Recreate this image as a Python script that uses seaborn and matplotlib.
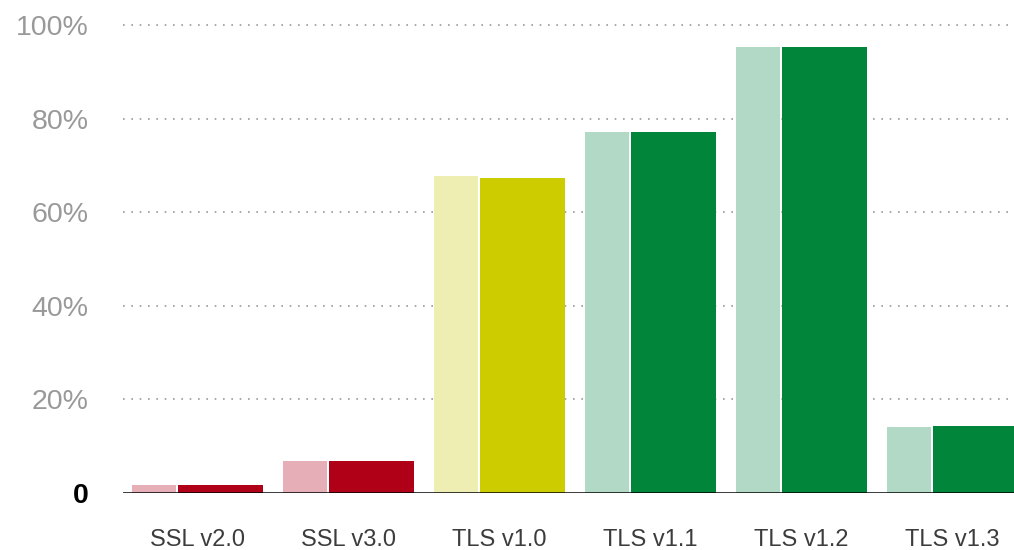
import matplotlib
matplotlib.use("Agg")
import matplotlib.pyplot as plt
import pandas as pd
import seaborn as sns

categories = ["SSL v2.0", "SSL v3.0", "TLS v1.0", "TLS v1.1", "TLS v1.2", "TLS v1.3"]
previous = [1.8, 6.9, 67.7, 77.1, 95.2, 14.0]
current = [1.8, 6.9, 67.2, 77.1, 95.2, 14.4]
light_colors = ["#E6AEB6", "#E6AEB6", "#EEEEB2", "#B1D9C5", "#B1D9C5", "#B1D9C5"]
dark_colors = ["#B00018", "#B00018", "#CCCC00", "#00853A", "#00853A", "#00853A"]
y_ticks = [0, 20, 40, 60, 80, 100]
y_labels = ["0", "20%", "40%", "60%", "80%", "100%"]

df = pd.DataFrame({"protocol": categories, "previous": previous, "current": current})

sns.set_style("white")
plt.rcParams["font.family"] = ["Liberation Sans", "DejaVu Sans"]

fig = plt.figure(figsize=(10.14, 5.5), dpi=100)
ax = fig.add_axes([123 / 1014, 57 / 550, 1 - 123 / 1014, 477.4 / 550])

# narrow light bar on the left, wide dark bar on the right of each group
light_w, dark_w, gap = 0.29, 0.563, 0.013
start = -0.434
sns.barplot(data=df, x="protocol", y="previous", hue="protocol", palette=light_colors,
            legend=False, width=light_w, ax=ax, saturation=1, zorder=3)
n_light = len(ax.patches)
sns.barplot(data=df, x="protocol", y="current", hue="protocol", palette=dark_colors,
            legend=False, width=dark_w, ax=ax, saturation=1, zorder=3)

for i, p in enumerate(ax.patches):
    idx = i % len(categories)
    if i < n_light:
        p.set_x(idx + start)
    else:
        p.set_x(idx + start + light_w + gap)
    p.set_linewidth(0)

ax.set_xlim(-0.493, 5.407)
ax.set_ylim(0, 102)
ax.set_yticks(y_ticks)
ax.set_yticklabels(y_labels)
for t, lab in zip(ax.get_yticklabels(), y_labels):
    if lab == "0":
        t.set_color("black")
        t.set_fontweight("bold")
        t.set_fontsize(21)
    else:
        t.set_color("#999999")
ax.tick_params(axis="y", length=0, pad=25, labelsize=20.5)
ax.tick_params(axis="x", length=0, pad=26, labelsize=17, labelcolor="#3c3c3c")

for y in y_ticks[1:]:
    ax.axhline(y, color="#999999", linestyle=(0, (1, 4)), linewidth=1.2, zorder=1)
ax.axhline(0, color="black", linewidth=1.8, zorder=4)

for s in ax.spines.values():
    s.set_visible(False)
ax.set_xlabel("")
ax.set_ylabel("")

fig.savefig("out.png", dpi=100)
